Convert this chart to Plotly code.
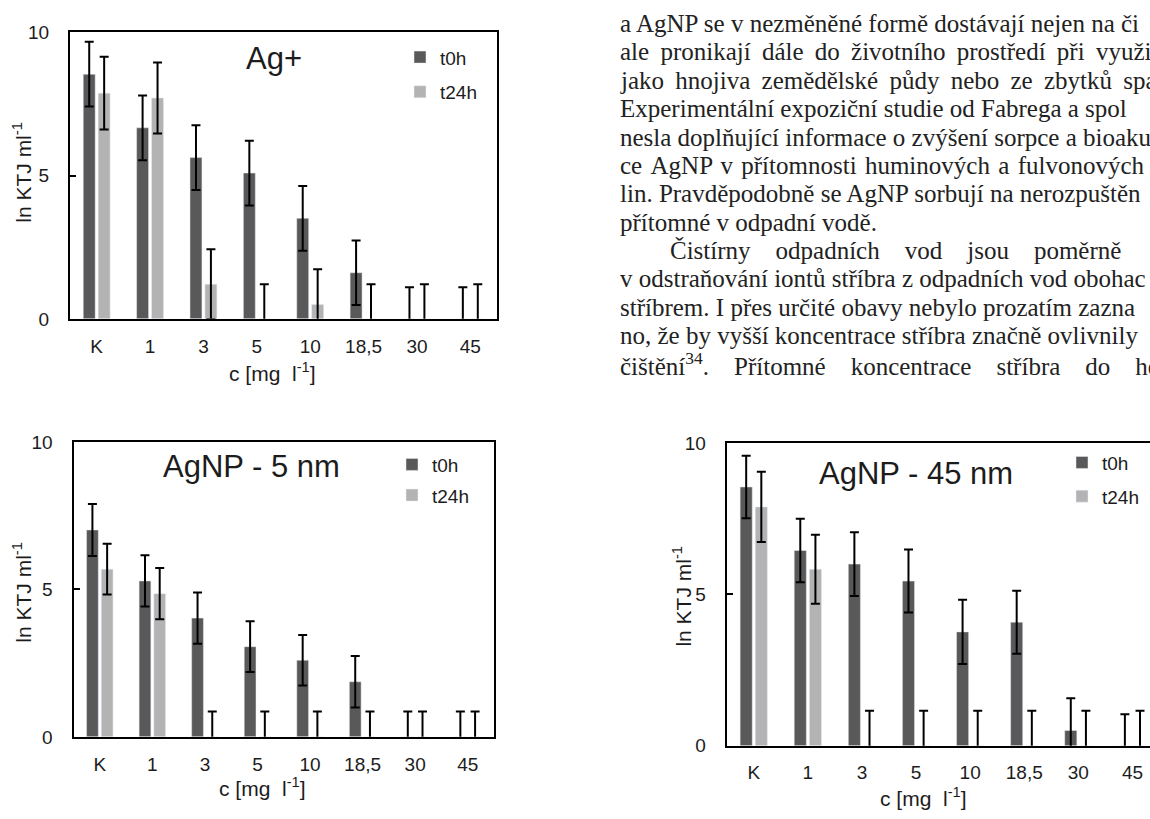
import plotly.graph_objects as go

# ---------------- data ----------------
categories = ["K", "1", "3", "5", "10", "18,5", "30", "45"]
series_names = ["t0h", "t24h"]

ag_t0 = [8.54, 6.67, 5.63, 5.09, 3.51, 1.61, 0, 0]
ag_t0_err = [1.13, 1.13, 1.13, 1.13, 1.13, 1.13, 1.10, 1.10]
ag_t24 = [7.88, 7.71, 1.21, 0, 0.50, 0, 0, 0]
ag_t24_err = [1.27, 1.24, 1.22, 1.21, 1.23, 1.21, 1.21, 1.21]

np5_t0 = [7.02, 5.29, 4.03, 3.06, 2.60, 1.87, 0, 0]
np5_t0_err = [0.88, 0.87, 0.87, 0.86, 0.86, 0.87, 0.86, 0.86]
np5_t24 = [5.69, 4.86, 0, 0, 0, 0, 0, 0]
np5_t24_err = [0.86, 0.87, 0.86, 0.86, 0.86, 0.86, 0.86, 0.86]

np45_t0 = [8.55, 6.45, 6.00, 5.44, 3.76, 4.08, 0.50, 0]
np45_t0_err = [1.03, 1.05, 1.05, 1.04, 1.06, 1.04, 1.07, 1.04]
np45_t24 = [7.89, 5.83, 0, 0, 0, 0, 0, 0]
np45_t24_err = [1.16, 1.14, 1.15, 1.15, 1.15, 1.15, 1.15, 1.15]

panel_titles = ["Ag+", "AgNP - 5 nm", "AgNP - 45 nm"]
y_ticks = [0, 5, 10]
y_title = "ln KTJ ml<sup>-1</sup>"
x_title = "c [mg\u00a0\u00a0l<sup>-1</sup>]"

body_lines = [
    "a AgNP se v nezměněné formě dostávají nejen na či",
    "ale pronikají dále do životního prostředí při využi",
    "jako hnojiva zemědělské půdy nebo ze zbytků spa",
    "Experimentální expoziční studie od Fabrega a spol",
    "nesla doplňující informace o zvýšení sorpce a bioaku",
    "ce AgNP v přítomnosti huminových a fulvonových",
    "lin. Pravděpodobně se AgNP sorbují na nerozpuštěn",
    "přítomné v odpadní vodě.",
    "Čistírny odpadních vod jsou poměrně",
    "v odstraňování iontů stříbra z odpadních vod obohac",
    "stříbrem. I přes určité obavy nebylo prozatím zazna",
    "no, že by vyšší koncentrace stříbra značně ovlivnily",
    "čištění<sup>34</sup>. Přítomné koncentrace stříbra do he",
]

# ---------------- layout geometry (px) ----------------
W, H = 1150, 819
DARK, LIGHT = "#595959", "#b3b3b3"
SANS = "Liberation Sans, Arial, sans-serif"
SERIF = "Liberation Serif, Times New Roman, serif"
INK = "#1c1c1c"

# extra spacing per word gap, imitating the justified page text
NB, THIN, HAIR = "\u00a0", "\u2009", "\u200a"
line_extra = ["", THIN, THIN, "", "", HAIR, "", "", NB * 3, "", "", "", NB * 3]
line_indent = [0, 0, 0, 0, 0, 0, 0, 0, 50, 0, 0, 0, 0]

panels = [
    dict(t0=ag_t0, e0=ag_t0_err, t24=ag_t24, e24=ag_t24_err,
         box=(70, 497, 23, 317), xrange=[-0.5, 7.5], mirror_y=True,
         title_xy=(274, 50), legend_xy=(400, 29), gap=7,
         ytitle_xy=(22, 167), xtitle_xy=(272, 372)),
    dict(t0=np5_t0, e0=np5_t0_err, t24=np5_t24, e24=np5_t24_err,
         box=(73.5, 494, 443.5, 746), xrange=[-0.5, 7.5], mirror_y=True,
         title_xy=(251, 469), legend_xy=(392, 447), gap=3,
         ytitle_xy=(22, 598), xtitle_xy=(262, 797)),
    dict(t0=np45_t0, e0=np45_t0_err, t24=np45_t24, e24=np45_t24_err,
         box=(726.7, 1150, 444.5, 755), xrange=[-0.5, -0.5 + (1150 - 726.7) / 54.1],
         mirror_y=False, title_xy=(916, 476), legend_xy=(1062, 445), gap=6,
         ytitle_xy=(682, 602), xtitle_xy=(923, 808)),
]


def fx(px):
    return px / W


def fy(py):
    return 1 - py / H


fig = go.Figure()
annotations = []

for i, p in enumerate(panels):
    sfx = "" if i == 0 else str(i + 1)
    leg = "legend" + sfx
    for name, vals, errs, col in [(series_names[0], p["t0"], p["e0"], DARK),
                                  (series_names[1], p["t24"], p["e24"], LIGHT)]:
        fig.add_trace(go.Bar(
            x=categories, y=vals, name=name, marker_color=col,
            error_y=dict(type="data", array=errs, visible=True, color="black",
                         thickness=2, width=4.5),
            xaxis="x" + sfx, yaxis="y" + sfx, legend=leg,
            legendgroup=f"{name}{i}",
        ))
    x0, x1, y0, y1 = p["box"]
    xa = dict(domain=[fx(x0), fx(x1)], anchor="y" + sfx, type="category",
              range=p["xrange"], showline=True, linecolor="black", linewidth=2,
              mirror=True, ticks="", showgrid=False, ticklabelstandoff=9,
              tickfont=dict(family=SANS, size=19, color=INK))
    ya = dict(domain=[fy(y1), fy(y0)], anchor="x" + sfx, range=[0, 10],
              tickvals=y_ticks, showline=True, linecolor="black", linewidth=2,
              mirror=p["mirror_y"], ticks="inside", ticklen=6, tickwidth=1.5,
              tickcolor="black", showgrid=False, zeroline=False,
              ticklabelstandoff=15,
              tickfont=dict(family=SANS, size=19, color=INK))
    fig.update_layout(**{"xaxis" + sfx: xa, "yaxis" + sfx: ya})
    lx, ly = p["legend_xy"]
    fig.update_layout(**{leg: dict(x=fx(lx), y=fy(ly), xanchor="left", yanchor="top",
                                   bgcolor="rgba(0,0,0,0)", tracegroupgap=p["gap"],
                                   font=dict(family=SANS, size=19, color=INK))})
    tx, ty = p["title_xy"]
    annotations.append(dict(text=panel_titles[i], x=fx(tx), y=fy(ty), xref="paper",
                            yref="paper", showarrow=False, xanchor="center",
                            yanchor="middle",
                            font=dict(family=SANS, size=31, color=INK)))
    # axis titles
    ax_, ay_ = p["ytitle_xy"]
    annotations.append(dict(text=y_title, x=fx(ax_), y=fy(ay_), xref="paper",
                            yref="paper", showarrow=False, textangle=-90,
                            xanchor="center", yanchor="middle",
                            font=dict(family=SANS, size=21, color=INK)))
    bx_, by_ = p["xtitle_xy"]
    annotations.append(dict(text=x_title, x=fx(bx_), y=fy(by_), xref="paper",
                            yref="paper", showarrow=False,
                            xanchor="center", yanchor="middle",
                            font=dict(family=SANS, size=21, color=INK)))

# body text (page of the document around the figures)
text_x, line_y0, line_step = 618, 14, 29.1
for k, line in enumerate(body_lines):
    shown = line.replace(" ", " " + line_extra[k])
    annotations.append(dict(text=shown, x=fx(text_x + line_indent[k]),
                            y=fy(line_y0 + k * line_step),
                            xref="paper", yref="paper", showarrow=False,
                            xanchor="left", yanchor="middle",
                            font=dict(family=SERIF, size=25, color="#222222")))

fig.update_layout(
    width=W, height=H, margin=dict(l=0, r=0, t=0, b=0),
    paper_bgcolor="white", plot_bgcolor="white",
    barmode="group", bargap=0.44, bargroupgap=0.2,
    showlegend=True, annotations=annotations,
)

fig.write_html(
    "out.html",
    config={"displayModeBar": False},
    post_script="document.body.style.margin='0px';document.body.style.overflow='hidden';",
)
